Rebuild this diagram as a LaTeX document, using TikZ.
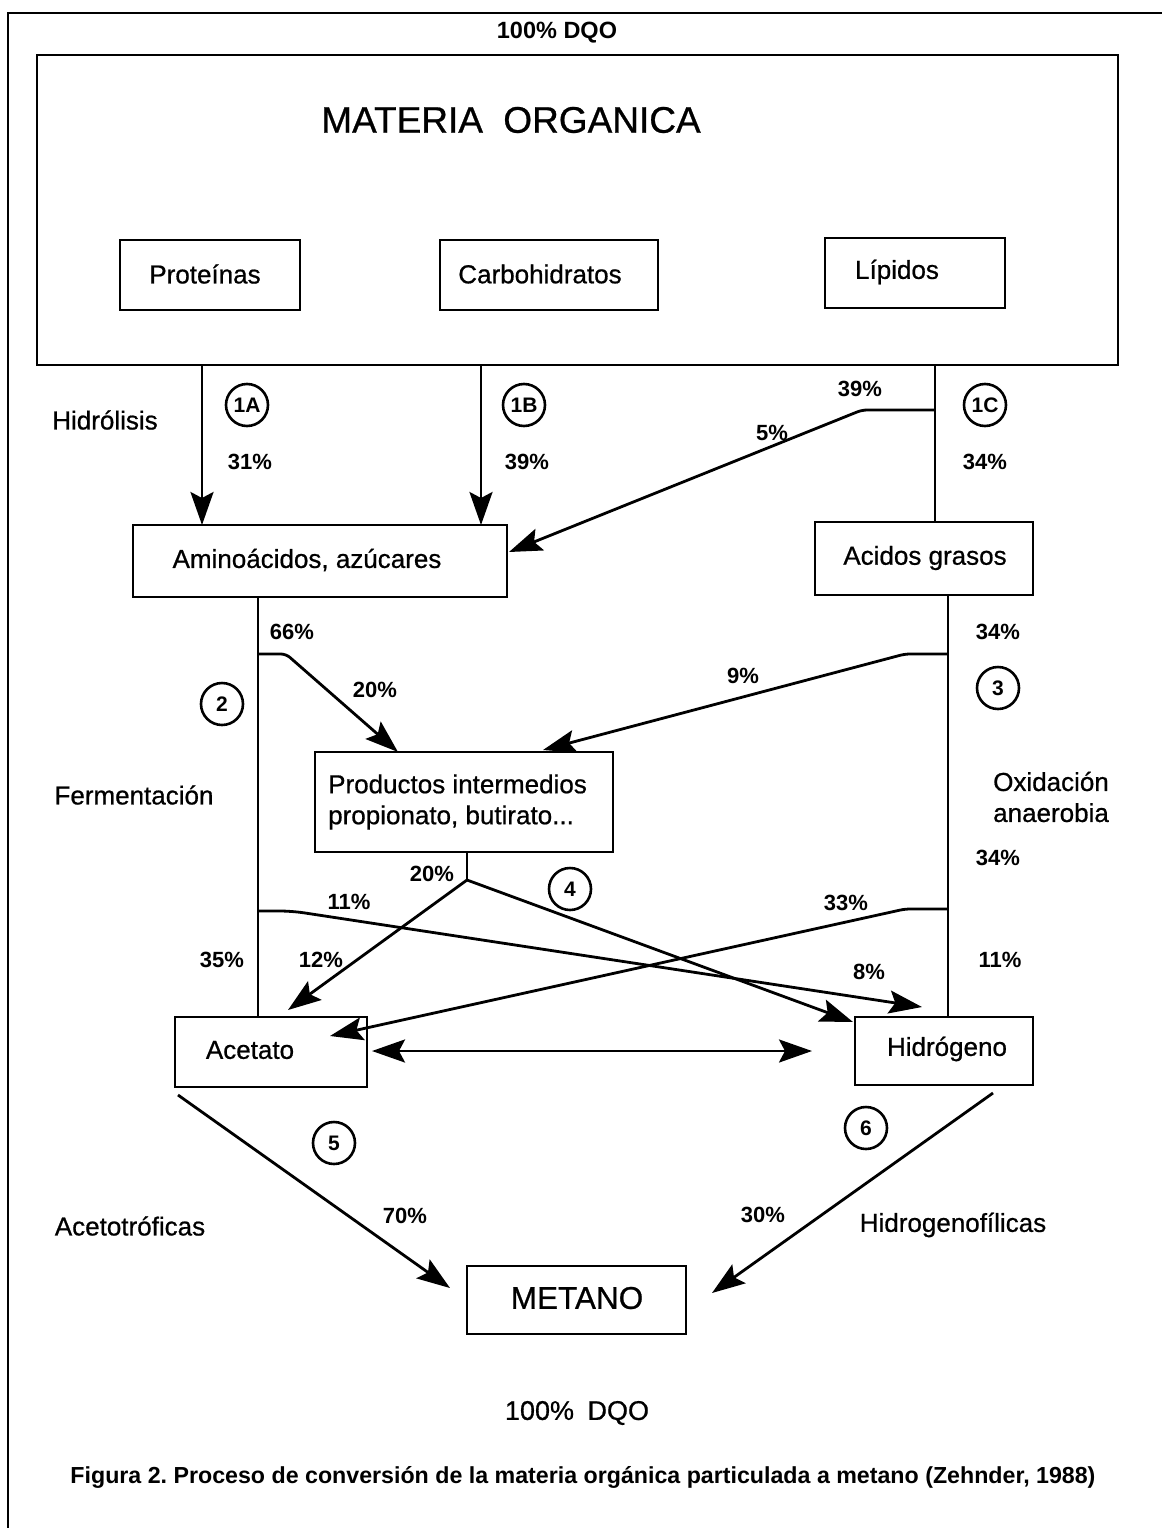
\documentclass[tikz,border=0pt]{standalone}
\usepackage{fontspec}
\setmainfont{Liberation Sans}
\newfontfamily\scanfont{Liberation Sans}[FakeBold=0.7]
\usetikzlibrary{arrows.meta}
\frenchspacing
\begin{document}
\begin{tikzpicture}[x=1pt,y=-1pt,
 box/.style={draw, line width=2.6pt, inner sep=0pt, outer sep=0pt},
 lbl/.style={font=\scanfont\fontsize{26}{31}\selectfont, inner sep=0pt},
 big/.style={font=\scanfont\fontsize{37}{42}\selectfont, inner sep=0pt},
 pct/.style={font=\bfseries\fontsize{22}{26}\selectfont, inner sep=0pt},
 num/.style={draw, circle, line width=2.6pt, minimum size=42pt, inner sep=0pt, font=\bfseries\fontsize{21}{25}\selectfont},
 con/.style={line width=2.8pt},
 arr/.style={con, -{Stealth[length=33pt,width=23pt,inset=6pt]}},
 darr/.style={con, {Stealth[length=33pt,width=23pt,inset=6pt]}-{Stealth[length=33pt,width=23pt,inset=6pt]}}]
\useasboundingbox (0,0) rectangle (1162,1528);
\fill[white] (0,0) rectangle (1162,1528);
% outer frame
\draw[line width=2pt] (8,1528) -- (8,13) -- (1162,13);
\node[pct, font=\bfseries\fontsize{23.5}{27}\selectfont] (dqotop) at (557,33) {100\% DQO};

% boxes
\node[box, minimum width=1081pt, minimum height=310pt] (mo) at (577.5,210) {};
\node[big] (mot) at (511,120) {MATERIA\hspace{0.55em}ORGANICA};
\node[box, minimum width=180pt, minimum height=70pt] (prot) at (210,275) {};
\node[lbl] (prott) at (205,274) {Proteínas};
\node[box, minimum width=218pt, minimum height=70pt] (carb) at (549,275) {};
\node[lbl] (carbt) at (540,274) {Carbohidratos};
\node[box, minimum width=180pt, minimum height=70pt] (lip) at (915,273) {};
\node[lbl] (lipt) at (897,272) {Lípidos};
\node[box, minimum width=374pt, minimum height=72pt] (amino) at (320,561) {};
\node[lbl] (aminot) at (307,560) {Aminoácidos, azúcares};
\node[box, minimum width=218pt, minimum height=73pt] (acgr) at (924,558.5) {};
\node[lbl] (acgrt) at (925,558) {Acidos grasos};
\node[box, minimum width=298pt, minimum height=100pt] (prod) at (464,802) {};
\node[lbl, align=left, anchor=west] (prodt) at (328,802) {Productos intermedios\\propionato, butirato...};
\node[box, minimum width=192pt, minimum height=70pt] (acet) at (271,1052) {};
\node[lbl] (acett) at (250,1050) {Acetato};
\node[box, minimum width=178pt, minimum height=68pt] (hidr) at (944,1051) {};
\node[lbl] (hidrt) at (947,1049) {Hidrógeno};
\node[box, minimum width=219pt, minimum height=68pt] (met) at (576.5,1300) {};
\node[lbl, font=\scanfont\fontsize{31.5}{36}\selectfont] (mett) at (577,1298) {METANO};

% side labels
\node[lbl] (hid) at (105,420) {Hidrólisis};
\node[lbl] (fer) at (134,795) {Fermentación};
\node[lbl, align=left, anchor=west] (oxi) at (993,797) {Oxidación\\anaerobia};
\node[lbl] (ace) at (130,1226) {Acetotróficas};
\node[lbl] (hgf) at (953,1225) {Hidrogenofílicas};
\node[lbl, font=\scanfont\fontsize{27}{31}\selectfont] (dqobot) at (577,1413) {100\%\hspace{0.5em}DQO};
\node[inner sep=0pt, font=\bfseries\fontsize{23.2}{27}\selectfont] (cap) at (583,1477) {Figura 2. Proceso de conversión de la materia orgánica particulada a metano (Zehnder, 1988)};

% hydrolysis connectors
\coordinate (h1) at (202,365);
\coordinate (h2) at (481,365);
\coordinate (h3) at (935,365);
\coordinate (b3) at (935,410);
\coordinate (b3k) at (862,410);
\coordinate (t5) at (509,552);
\draw[arr] (h1) -- (h1 |- amino.north);
\draw[arr] (h2) -- (h2 |- amino.north);
\draw[con] (h3) -- (h3 |- acgr.north);
\draw[arr, rounded corners=5pt] (b3) -- (b3k) -- (t5);

% fermentation connectors
\coordinate (v2) at (258,597);
\coordinate (b2) at (258,654);
\coordinate (b2k) at (286,654);
\coordinate (t2) at (398,752);
\coordinate (b2b) at (258,911);
\coordinate (b2bk) at (292,911);
\coordinate (t11) at (922,1007);
\draw[con] (v2) -- (v2 |- acet.north);
\draw[arr, rounded corners=5pt] (b2) -- (b2k) -- (t2);
\draw[arr, rounded corners=12pt] (b2b) -- (b2bk) -- (t11);

% oxidation connectors
\coordinate (v3) at (948,595);
\coordinate (b3a) at (948,654);
\coordinate (b3ak) at (905,654);
\coordinate (t9) at (543,750);
\coordinate (b3b) at (948,909);
\coordinate (b3bk) at (905,909);
\coordinate (t33) at (330,1036);
\draw[con] (v3) -- (v3 |- hidr.north);
\draw[arr, rounded corners=5pt] (b3a) -- (b3ak) -- (t9);
\draw[arr, rounded corners=5pt] (b3b) -- (b3bk) -- (t33);

% intermediates
\coordinate (p4) at (467,852);
\coordinate (p4k) at (467,880);
\coordinate (t12) at (288,1010);
\coordinate (t8) at (853,1022);
\draw[con] (p4) -- (p4k);
\draw[arr] (p4k) -- (t12);
\draw[arr] (p4k) -- (t8);

% acetate <-> hydrogen
\coordinate (dl) at (372,1051);
\coordinate (dr) at (812,1051);
\draw[darr] (dl) -- (dr);

% methanogenesis
\coordinate (m5) at (178,1095);
\coordinate (t70) at (450,1288);
\coordinate (m6) at (993,1093);
\coordinate (t30) at (712,1293);
\draw[arr] (m5) -- (t70);
\draw[arr] (m6) -- (t30);

% circles
\node[num] (c1a) at (247,405) {1A};
\node[num] (c1b) at (524,405) {1B};
\node[num] (c1c) at (985,405) {1C};
\node[num] (c2) at (222,704) {2};
\node[num] (c3) at (998,688) {3};
\node[num] (c4) at (570,889) {4};
\node[num] (c5) at (334,1143) {5};
\node[num] (c6) at (866,1128) {6};

% percentages
\node[pct] (p31) at (250,462) {31\%};
\node[pct] (p39a) at (527,462) {39\%};
\node[pct] (p39b) at (860,389) {39\%};
\node[pct] (p5) at (772,433) {5\%};
\node[pct] (p34a) at (985,462) {34\%};
\node[pct] (p66) at (292,632) {66\%};
\node[pct] (p20a) at (375,690) {20\%};
\node[pct] (p34b) at (998,632) {34\%};
\node[pct] (p9) at (743,676) {9\%};
\node[pct] (p34c) at (998,858) {34\%};
\node[pct] (p20b) at (432,874) {20\%};
\node[pct] (p11a) at (349,902) {11\%};
\node[pct] (p33) at (846,903) {33\%};
\node[pct] (p35) at (222,960) {35\%};
\node[pct] (p12) at (321,960) {12\%};
\node[pct] (p8) at (869,972) {8\%};
\node[pct] (p11b) at (1000,960) {11\%};
\node[pct] (p70) at (405,1216) {70\%};
\node[pct] (p30) at (763,1215) {30\%};
\end{tikzpicture}
\end{document}
